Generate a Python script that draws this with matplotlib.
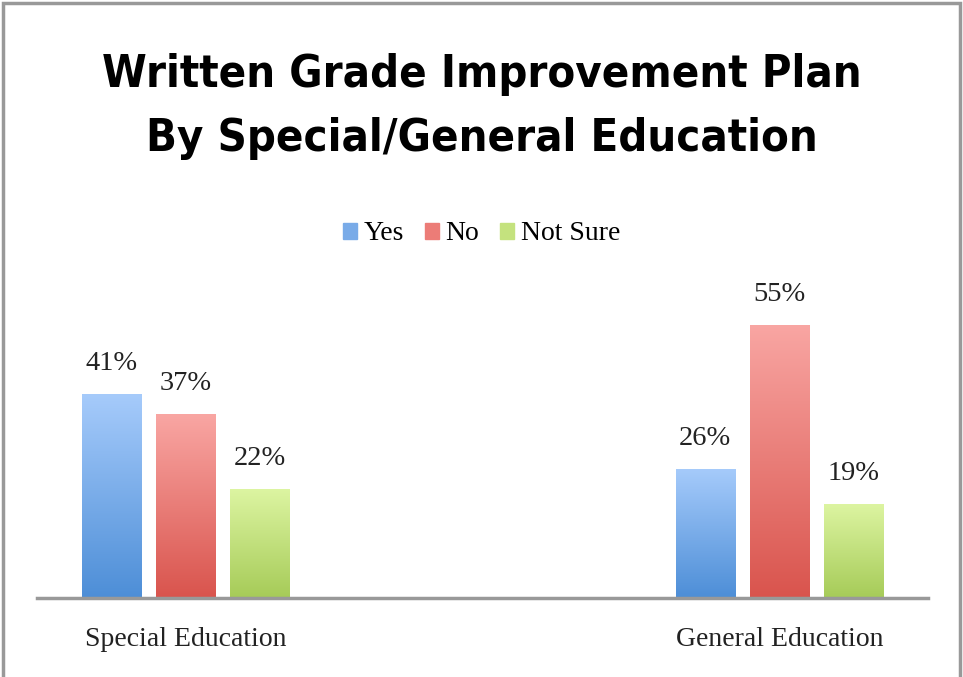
import numpy as np
import matplotlib.pyplot as plt
from matplotlib.colors import LinearSegmentedColormap
from matplotlib.patches import Rectangle

# data
groups = ['Special Education', 'General Education']
series = ['Yes', 'No', 'Not Sure']
yes = [41, 26]
no = [37, 55]
not_sure = [22, 19]

tops = ['#a6cbfb', '#f9a6a3', '#ddf5a2']
bottoms = ['#4d8ed7', '#d9544d', '#a6cb58']
mids = ['#79abe8', '#ec7c77', '#c4e27e']

fig = plt.figure(figsize=(9.63, 6.77), dpi=100)
ax = fig.add_axes([37 / 963, 1 - 598 / 677, 891 / 963, 298 / 677])

x = np.arange(len(groups))
width = 0.1
step = 0.125
grad = np.linspace(1, 0, 256).reshape(-1, 1)

for i, vals in enumerate([yes, no, not_sure]):
    pos = x + (i - 1) * step
    bars = ax.bar(pos, vals, width, color='none', edgecolor='none', label=series[i])
    cmap = LinearSegmentedColormap.from_list('g%d' % i, [bottoms[i], tops[i]])
    for b, v in zip(bars, vals):
        x0 = b.get_x()
        im = ax.imshow(grad, extent=[x0, x0 + width, 0, v], aspect='auto',
                       cmap=cmap, origin='upper', zorder=2)
        im.set_clip_path(b)
        ax.text(x0 + width / 2, v + 3.6, '%d%%' % v, ha='center', va='bottom',
                fontsize=20.5, family='Liberation Serif', color='#222222')

ax.set_xlim(-0.25, 1.25)
ax.set_ylim(0, 60)
for s in ['top', 'right', 'left']:
    ax.spines[s].set_visible(False)
ax.spines['bottom'].set_color('#999999')
ax.spines['bottom'].set_linewidth(2.5)
ax.set_yticks([])
ax.set_xticks(x)
ax.set_xticklabels(groups, fontsize=20, family='Liberation Serif', color='#222222')
ax.tick_params(axis='x', length=0, pad=21)

handles = [Rectangle((0, 0), 1, 1, color=mids[i]) for i in range(3)]
fig.legend(handles, series, loc='center', bbox_to_anchor=(0.5, 1 - 234 / 677),
           ncol=3, frameon=False, handlelength=0.5, handleheight=0.5,
           handletextpad=0.25, columnspacing=0.75,
           prop={'family': 'Liberation Serif', 'size': 20})

fig.text(0.5, 1 - 75 / 677, 'Written Grade Improvement Plan', ha='center', va='center',
         fontsize=32.5, fontweight='bold', family='DejaVu Sans', stretch='condensed')
fig.text(0.5, 1 - 138 / 677, 'By Special/General Education', ha='center', va='center',
         fontsize=32.5, fontweight='bold', family='DejaVu Sans', stretch='condensed')

# outer frame
fig.add_artist(Rectangle((3 / 963, -0.01), 957 / 963, 1 - 3 / 677 + 0.01,
                         transform=fig.transFigure, fill=False,
                         edgecolor='#999999', linewidth=2.5))

fig.savefig('out.png', dpi=100)
